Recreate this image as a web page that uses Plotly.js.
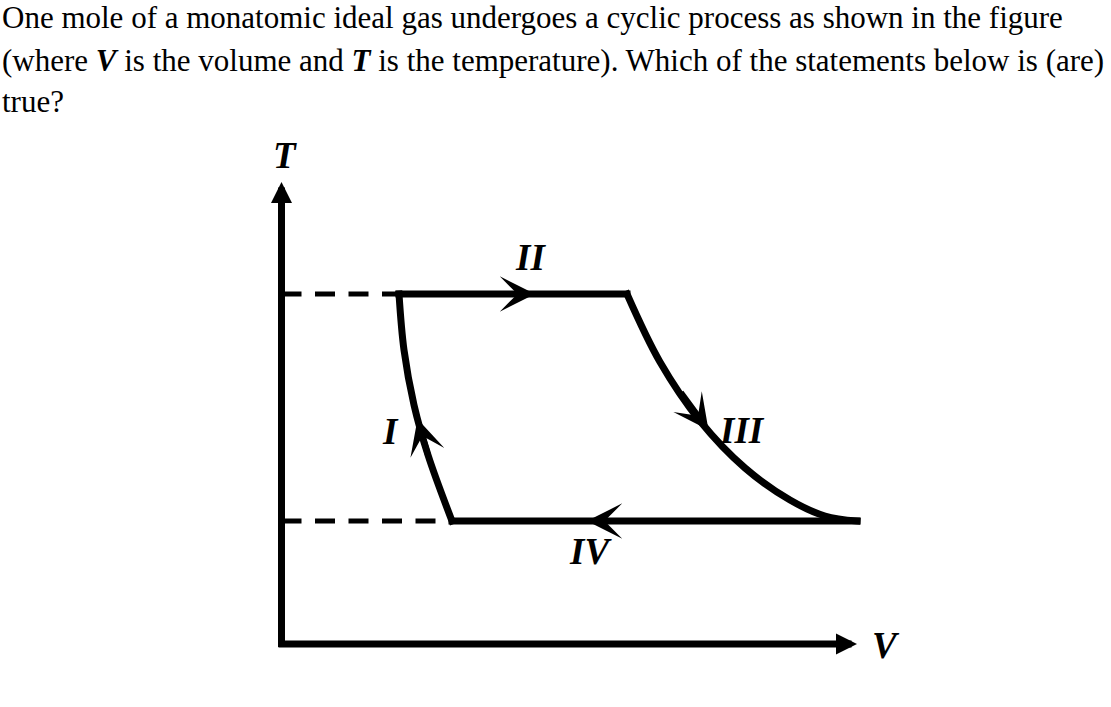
<!DOCTYPE html>
<html>
<head>
<meta charset="utf-8">
<script src="https://cdn.plot.ly/plotly-3.0.1.min.js"></script>
<style>html,body{margin:0;padding:0;background:#fff;}#chart{width:1111px;height:707px;}</style>
</head>
<body>
<div id="chart"></div>
<script>
// ---- data (arbitrary units: V horizontal, T vertical) ----
const questionLines = [
  "One mole of a monatomic ideal gas undergoes a cyclic process as shown in the figure",
  "(where <b><i>V</i></b> is the volume and <b><i>T</i></b> is the temperature). Which of the statements below is (are)",
  "true?"
];
const T_high = 3.5;
const T_low = 1.23;
const V_B = 1.175;   // start of II
const V_C = 3.455;   // end of II
const V_D = 5.755;   // end of III / start of IV
const V_A = 1.705;   // end of IV / start of I
const curveI_V = [1.705, 1.465, 1.325, 1.225, 1.175];
const curveI_T = [1.23, 1.89, 2.39, 2.94, 3.5];
const curveIII_V = [3.455, 3.785, 4.185, 4.635, 5.085, 5.435, 5.755];
const curveIII_T = [3.5, 2.82, 2.23, 1.76, 1.44, 1.28, 1.23];
const processLabels = ["I", "II", "III", "IV"];
const labelV = [1.085, 2.485, 4.6, 3.085];
const labelT = [2.13, 3.87, 2.14, 0.93];
// arrows on each process: [tipV, tipT, tailV, tailT]
const arrowTipV = [1.36, 2.535, 4.27, 3.055];
const arrowTipT = [2.25, 3.5, 2.14, 1.23];
const arrowTailV = [1.465, 2.25, 3.99, 3.35];
const arrowTailT = [1.89, 3.5, 2.52, 1.23];
const axisTopT = 4.62;
const axisRightV = 5.755;

// ---- traces ----
const black = '#000';
const traces = [
  {x: [0, V_B], y: [T_high, T_high], mode: 'lines', line: {color: black, width: 5, dash: '20px,13.5px'}},
  {x: [0, V_A], y: [T_low, T_low], mode: 'lines', line: {color: black, width: 5, dash: '20px,13.5px'}},
  {x: curveI_V, y: curveI_T, mode: 'lines', line: {color: black, width: 7, shape: 'spline', smoothing: 1}},
  {x: [V_B, V_C], y: [T_high, T_high], mode: 'lines', line: {color: black, width: 7}},
  {x: curveIII_V, y: curveIII_T, mode: 'lines', line: {color: black, width: 7, shape: 'spline', smoothing: 1}},
  {x: [V_D, V_A], y: [T_low, T_low], mode: 'lines', line: {color: black, width: 7}}
];

const serif = '"Liberation Serif", "Times New Roman", serif';
const annotations = [];
// question text
const lineY = [18, 60, 102];
questionLines.forEach((t, i) => {
  annotations.push({xref: 'paper', yref: 'paper', x: 0, y: 1 - lineY[i] / 707, xanchor: 'left', yanchor: 'middle',
    text: t, showarrow: false, align: 'left', font: {family: serif, size: 31, color: black}});
});
// axes with arrowheads
annotations.push({x: 0, y: axisTopT, ax: 0, ay: -0.035, axref: 'x', ayref: 'y', xref: 'x', yref: 'y', text: '',
  showarrow: true, arrowhead: 2, arrowwidth: 7, arrowsize: 0.6, arrowcolor: black, standoff: 0, borderpad: 0});
annotations.push({x: axisRightV, y: 0, ax: -0.035, ay: 0, axref: 'x', ayref: 'y', xref: 'x', yref: 'y', text: '',
  showarrow: true, arrowhead: 2, arrowwidth: 7, arrowsize: 0.6, arrowcolor: black, standoff: 0, borderpad: 0});
// process arrows
for (let i = 0; i < arrowTipV.length; i++) {
  annotations.push({x: arrowTipV[i], y: arrowTipT[i], ax: arrowTailV[i], ay: arrowTailT[i], axref: 'x', ayref: 'y',
    xref: 'x', yref: 'y', text: '', showarrow: true, arrowhead: 3, arrowwidth: 6, arrowsize: 0.98,
    arrowcolor: black, standoff: 0, borderpad: 0});
}
// labels
const labFont = {family: serif, size: 37, color: black};
processLabels.forEach((t, i) => {
  annotations.push({x: labelV[i], y: labelT[i], xref: 'x', yref: 'y', text: '<b><i>' + t + '</i></b>',
    showarrow: false, xanchor: 'center', yanchor: 'middle', font: labFont});
});
annotations.push({x: 0.035, y: 4.89, xref: 'x', yref: 'y', text: '<b><i>T</i></b>', showarrow: false, font: labFont});
annotations.push({x: 6.045, y: -0.01, xref: 'x', yref: 'y', text: '<b><i>V</i></b>', showarrow: false, font: labFont});

const layout = {
  width: 1111, height: 707, autosize: false,
  margin: {l: 0, r: 0, t: 0, b: 0, pad: 0},
  paper_bgcolor: '#fff', plot_bgcolor: '#fff', showlegend: false,
  xaxis: {range: [-2.815, 8.295], visible: false, showgrid: false, zeroline: false, fixedrange: true},
  yaxis: {range: [-0.63, 6.44], visible: false, showgrid: false, zeroline: false, fixedrange: true},
  annotations: annotations
};

Plotly.newPlot('chart', traces, layout, {staticPlot: true, displayModeBar: false}).then(() => {
  const groups = document.querySelectorAll('.scatterlayer .trace');
  groups.forEach((g, i) => {
    if (i >= 2) g.querySelectorAll('path.js-line').forEach(p => { p.style.strokeLinecap = 'square'; });
  });
});
</script>
</body>
</html>
